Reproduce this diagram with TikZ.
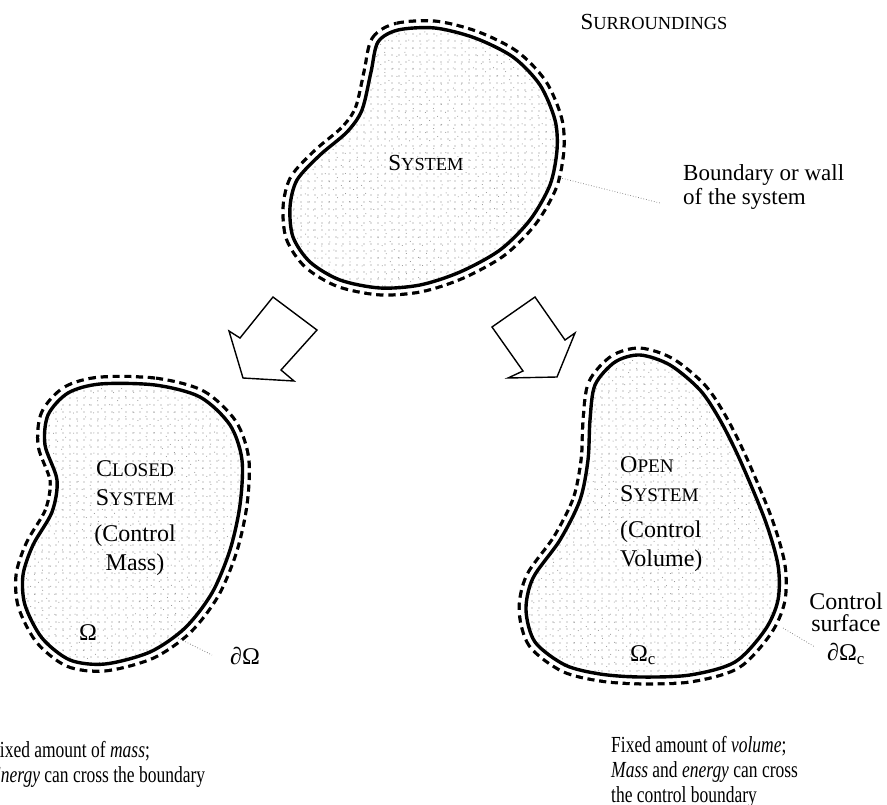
\documentclass[tikz,border=0pt]{standalone}
\usepackage{fontspec}
\setmainfont{Liberation Serif}
\usepackage{graphicx}
\usetikzlibrary{patterns.meta}

% fake small caps: first letter full size, the rest smaller
\newcommand\smc[2]{#1\scalebox{0.8}{#2}}
% narrow captions under the two systems
\newcommand\captext[1]{\scalebox{0.76}[1]{\begin{tabular}{@{}l@{}}#1\end{tabular}}}

\tikzset{
  wall/.style={line width=3.4pt},
  surfline/.style={line width=17pt, dash pattern=on 7pt off 4.5pt},
  gapline/.style={line width=10.5pt, white},
  stipple/.style={pattern={Dots[distance=7pt, radius=0.6pt]}, pattern color=black!50},
  stipplealt/.style={pattern={Dots[distance=9pt, angle=27, radius=0.55pt]}, pattern color=black!40},
  leader/.style={line width=0.7pt, dotted, black!55},
  bigarrow/.style={line width=1.4pt, line join=miter, fill=white},
  lbl/.style={inner sep=0pt, font=\fontsize{24}{29}\selectfont},
  sclbl/.style={inner sep=0pt, font=\fontsize{23}{29}\selectfont},
  caplbl/.style={inner sep=0pt, font=\fontsize{23}{25}\selectfont},
}

% solid wall, dashed surface just outside it, stippled inside
\newcommand\drawblob[1]{%
  \draw[surfline] plot[smooth cycle] coordinates {#1};
  \draw[gapline] plot[smooth cycle] coordinates {#1};
  \fill[white] plot[smooth cycle] coordinates {#1};
  \fill[stipple] plot[smooth cycle] coordinates {#1};
  \fill[stipplealt] plot[smooth cycle] coordinates {#1};
  \draw[wall] plot[smooth cycle] coordinates {#1};}

\begin{document}
\begin{tikzpicture}[line cap=butt,line join=round,x=1pt,y=-1pt]
\useasboundingbox (0,0) rectangle (887,804);

% system
\drawblob{(378,42) (398,30) (435,28) (475,38) (513,57) (540,85) (555,120)
  (557,150) (550,185) (530,220) (500,250) (460,272) (420,285) (380,288)
  (340,280) (310,262) (293,237) (290,207) (297,180) (320,155) (347,132)
  (362,110) (371,72)}
% closed system
\drawblob{(100,384) (155,385) (200,397) (230,425) (242,460) (240,505)
  (230,550) (212,593) (185,628) (150,652) (105,664) (70,660) (42,638)
  (25,605) (23,575) (33,545) (52,512) (57,480) (45,445) (48,415) (68,393)}
% open system
\drawblob{(615,362) (640,355) (670,365) (700,390) (720,420) (740,460)
  (765,520) (778,565) (778,600) (765,630) (735,662) (690,675) (640,677)
  (600,674) (565,665) (535,642) (526,610) (533,578) (560,540) (580,500)
  (588,460) (590,420) (595,385)}

% arrows
\draw[bigarrow] (273,297) -- (317,330) -- (281,370) -- (294,381) -- (243,378)
  -- (229,331) -- (240,338) -- cycle;
\draw[bigarrow] (535,297) -- (565,340) -- (575,333) -- (557,377) -- (508,378)
  -- (523,371) -- (492,327) -- cycle;

% labels
\node[sclbl] (surr) at (654,22) {\smc{S}{URROUNDINGS}};
\node[sclbl] (sys) at (426,163) {\smc{S}{YSTEM}};
\node[lbl,font=\fontsize{23}{24}\selectfont,anchor=west,align=left] (wall) at (683,187)
  {Boundary or wall\\of the system};
\coordinate (wallpt) at (557,177);
\coordinate (wallend) at (660,203);
\draw[leader] (wallpt) -- (wallend);

\node[lbl,align=center] (closed) at (135,518)
  {\smc{C}{LOSED}\\\smc{S}{YSTEM}\\[7pt](Control\\Mass)};
\node[lbl] (omega) at (88,633) {Ω};
\node[lbl] (domega) at (245,656) {∂Ω};
\coordinate (closedpt) at (178,638);
\coordinate (closedend) at (212,655);
\draw[leader] (closedpt) -- (closedend);

\node[lbl,align=center] (open) at (620,514) [anchor=west,align=left]
  {\smc{O}{PEN}\\\smc{S}{YSTEM}\\[7pt](Control\\Volume)};
\node[lbl] (omegac) at (643,655) {Ω\textsubscript{c}};
\node[lbl,font=\fontsize{24}{22}\selectfont,align=center] (csurf) at (846,612)
  {Control\\surface};
\node[lbl] (domegac) at (846,654) {∂Ω\textsubscript{c}};
\coordinate (openpt) at (783,628);
\coordinate (openend) at (815,647);
\draw[leader] (openpt) -- (openend);

\node[caplbl,anchor=west] (capclosed) at (-10,765)
  {\captext{Fixed amount of \textit{mass};\\\textit{Energy} can cross the boundary}};
\node[caplbl,anchor=west] (capopen) at (611,772)
  {\captext{Fixed amount of \textit{volume};\\\textit{Mass} and \textit{energy} can cross\\the control boundary}};
\end{tikzpicture}
\end{document}
